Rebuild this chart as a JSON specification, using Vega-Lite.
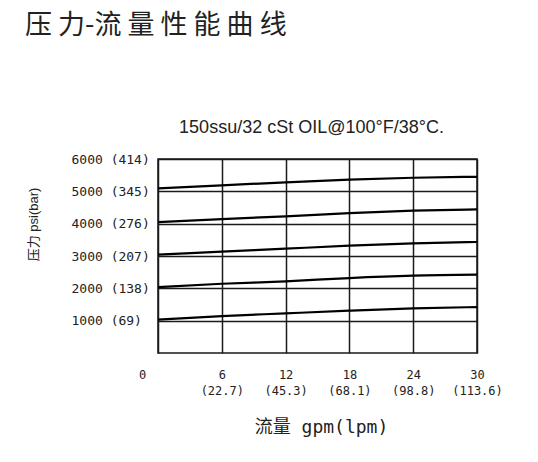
{
  "$schema": "https://vega.github.io/schema/vega-lite/v6.json",
  "autosize": "none",
  "width": 319,
  "height": 194,
  "padding": {"left": 158, "top": 159, "right": 61, "bottom": 109},
  "background": "white",
  "title": {
    "text": "压 力-流 量 性 能 曲 线",
    "anchor": "start",
    "frame": "group",
    "dx": -133,
    "offset": 57,
    "baseline": "alphabetic",
    "font": "Noto Sans CJK SC",
    "fontSize": 27,
    "fontWeight": "normal",
    "color": "#222222"
  },
  "config": {
    "view": {"stroke": "#1a1a1a", "strokeWidth": 1.5},
    "axis": {"domain": false, "ticks": false, "tickSize": 0, "gridColor": "#1a1a1a", "gridWidth": 1.5, "gridOpacity": 1}
  },
  "data": {
    "values": [
      {"series": "a", "gpm": 0, "psi": 5090}, {"series": "a", "gpm": 6, "psi": 5185}, {"series": "a", "gpm": 12, "psi": 5280}, {"series": "a", "gpm": 18, "psi": 5360}, {"series": "a", "gpm": 24, "psi": 5420}, {"series": "a", "gpm": 30, "psi": 5450},
      {"series": "b", "gpm": 0, "psi": 4050}, {"series": "b", "gpm": 6, "psi": 4142}, {"series": "b", "gpm": 12, "psi": 4226}, {"series": "b", "gpm": 18, "psi": 4328}, {"series": "b", "gpm": 24, "psi": 4402}, {"series": "b", "gpm": 30, "psi": 4442},
      {"series": "c", "gpm": 0, "psi": 3040}, {"series": "c", "gpm": 6, "psi": 3133}, {"series": "c", "gpm": 12, "psi": 3226}, {"series": "c", "gpm": 18, "psi": 3319}, {"series": "c", "gpm": 24, "psi": 3390}, {"series": "c", "gpm": 30, "psi": 3433},
      {"series": "d", "gpm": 0, "psi": 2040}, {"series": "d", "gpm": 6, "psi": 2142}, {"series": "d", "gpm": 12, "psi": 2216}, {"series": "d", "gpm": 18, "psi": 2318}, {"series": "d", "gpm": 24, "psi": 2390}, {"series": "d", "gpm": 30, "psi": 2421},
      {"series": "e", "gpm": 0, "psi": 1030}, {"series": "e", "gpm": 6, "psi": 1142}, {"series": "e", "gpm": 12, "psi": 1226}, {"series": "e", "gpm": 18, "psi": 1309}, {"series": "e", "gpm": 24, "psi": 1380}, {"series": "e", "gpm": 30, "psi": 1421}
    ]
  },
  "layer": [
    {
      "mark": {"type": "line", "color": "#000000", "strokeWidth": 2.2, "interpolate": "monotone"},
      "encoding": {
        "x": {
          "field": "gpm", "type": "quantitative",
          "scale": {"domain": [0, 30], "nice": false, "zero": true},
          "axis": {
            "orient": "bottom",
            "values": [0, 6, 12, 18, 24, 30],
            "labelExpr": "datum.value == 0 ? '0' : [datum.label, '(' + (datum.value == 6 ? '22.7' : datum.value == 12 ? '45.3' : datum.value == 18 ? '68.1' : datum.value == 24 ? '98.8' : '113.6') + ')']",
            "labelFont": "DejaVu Sans Mono",
            "labelFontSize": 12,
            "labelColor": "#222222",
            "labelLineHeight": 16,
            "labelPadding": 16,
            "labelBaseline": "top",
            "labelAlign": "center",
            "labelOffset": {"condition": {"test": "datum.value == 0", "value": -16}, "value": 0},
            "labelFlush": false,
            "labelOverlap": false,
            "title": "流量 gpm(lpm)",
            "titleFont": "DejaVu Sans Mono, Noto Sans CJK SC",
            "titleFontSize": 18,
            "titleFontWeight": "normal",
            "titleColor": "#222222",
            "titleX": 163,
            "titleY": 74,
            "titleAlign": "center",
            "titleBaseline": "middle"
          }
        },
        "y": {
          "field": "psi", "type": "quantitative",
          "scale": {"domain": [0, 6000], "nice": false},
          "axis": {
            "values": [1000, 2000, 3000, 4000, 5000, 6000],
            "labelExpr": "datum.value + ' (' + round(datum.value / 14.5) + ')'",
            "labelFont": "DejaVu Sans Mono",
            "labelFontSize": 13,
            "labelColor": "#222222",
            "labelAlign": "left",
            "labelBaseline": "middle",
            "labelPadding": 87,
            "labelFlush": false,
            "labelOverlap": false,
            "labelBound": false,
            "title": "压力 psi(bar)",
            "titleFont": "Liberation Sans, Noto Sans CJK SC",
            "titleFontSize": 13,
            "titleFontWeight": "normal",
            "titleColor": "#222222",
            "titleAngle": -90,
            "titleX": -125,
            "titleY": 65,
            "titleAlign": "center",
            "titleBaseline": "middle"
          }
        },
        "detail": {"field": "series"}
      }
    },
    {
      "mark": {"type": "point", "opacity": 0},
      "encoding": {
        "x": {
          "field": "gpm", "type": "quantitative",
          "axis": {
            "orient": "top",
            "labels": false,
            "grid": false,
            "title": "150ssu/32 cSt OIL@100°F/38°C.",
            "titleFont": "Liberation Sans",
            "titleFontSize": 18,
            "titleFontWeight": "normal",
            "titleColor": "#222222",
            "titleX": 153,
            "titleY": -27,
            "titleAlign": "center",
            "titleBaseline": "alphabetic"
          }
        }
      }
    }
  ],
  "resolve": {"axis": {"x": "independent"}}
}
